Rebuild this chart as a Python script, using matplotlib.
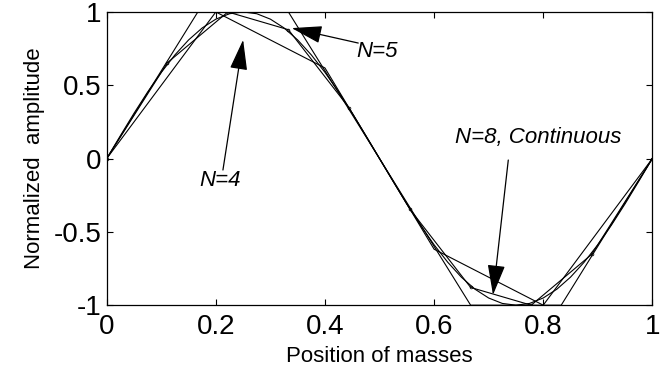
import matplotlib
matplotlib.use("Agg")
import matplotlib.pyplot as plt

plt.rcParams["font.family"] = ["Liberation Sans", "DejaVu Sans"]

# continuous mode shape
x_cont = [i / 40 for i in range(41)]
y_cont = [0, 0.156, 0.309, 0.454, 0.588, 0.707, 0.809, 0.891, 0.951, 0.988,
          1.0, 0.988, 0.951, 0.891, 0.809, 0.707, 0.588, 0.454, 0.309, 0.156,
          0, -0.156, -0.309, -0.454, -0.588, -0.707, -0.809, -0.891, -0.951, -0.988,
          -1.0, -0.988, -0.951, -0.891, -0.809, -0.707, -0.588, -0.454, -0.309, -0.156, 0]

# discrete systems
x_n4 = [0, 0.2, 0.4, 0.6, 0.8, 1.0]
y_n4 = [0, 1.0, 0.618, -0.618, -1.0, 0]

x_n5 = [0, 0.167, 0.333, 0.5, 0.667, 0.833, 1.0]
y_n5 = [0, 1.0, 1.0, 0, -1.0, -1.0, 0]

x_n8 = [0, 0.111, 0.222, 0.333, 0.444, 0.556, 0.667, 0.778, 0.889, 1.0]
y_n8 = [0, 0.653, 1.0, 0.879, 0.347, -0.347, -0.879, -1.0, -0.653, 0]

fig = plt.figure(figsize=(6.67, 3.74), dpi=100)
ax = fig.add_axes([0.160, 0.184, 0.818, 0.784])

ax.plot(x_cont, y_cont, color="k", lw=0.8)
ax.plot(x_n4, y_n4, color="k", lw=0.8)
ax.plot(x_n5, y_n5, color="k", lw=0.8)
ax.plot(x_n8, y_n8, color="k", lw=0.8, marker="o", ms=2, mfc="none", mew=0.5)

ax.set_xlim(0, 1)
ax.set_ylim(-1, 1)
ax.set_xticks([0, 0.2, 0.4, 0.6, 0.8, 1])
ax.set_xticklabels(["0", "0.2", "0.4", "0.6", "0.8", "1"])
ax.set_yticks([-1, -0.5, 0, 0.5, 1])
ax.set_yticklabels(["-1", "-0.5", "0", "0.5", "1"])
ax.tick_params(direction="in", top=True, right=True, labelsize=20, length=4, width=0.8)
ax.tick_params(axis="x", pad=6)
ax.tick_params(axis="y", pad=4)
for s in ax.spines.values():
    s.set_linewidth(0.9)

ax.set_xlabel("Position of masses", fontsize=16, labelpad=5)
ax.set_ylabel("Normalized  amplitude", fontsize=16, labelpad=6)

arr = dict(arrowstyle="-|>,head_length=1.9,head_width=0.55", color="k", lw=0.9,
           shrinkA=0, shrinkB=0)
# (tip, tail) pairs in data coordinates
ax.annotate("", xy=(0.339, 0.89), xytext=(0.461, 0.788), arrowprops=arr)
ax.annotate("", xy=(0.250, 0.81), xytext=(0.213, -0.078), arrowprops=arr)
ax.annotate("", xy=(0.708, -0.93), xytext=(0.736, -0.01), arrowprops=arr)

ax.text(0.495, 0.727, "N=5", fontsize=16, style="italic", ha="center", va="center")
ax.text(0.207, -0.147, "N=4", fontsize=16, style="italic", ha="center", va="center")
ax.text(0.791, 0.147, "N=8, Continuous", fontsize=16, style="italic", ha="center", va="center")

fig.savefig("out.png", dpi=100)
